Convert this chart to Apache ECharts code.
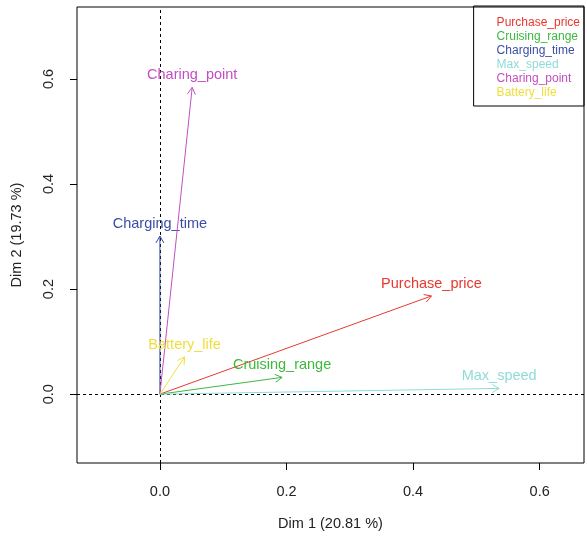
<!DOCTYPE html>
<html>
<head>
<meta charset="utf-8">
<script src="https://cdn.jsdelivr.net/npm/echarts@6/dist/echarts.min.js"></script>
<style>
  html, body { margin: 0; padding: 0; background: #fff; }
  #chart { width: 587px; height: 536px; }
</style>
</head>
<body>
<div id="chart"></div>
<script>
// variables of the PCA correlation circle (coordinates on Dim 1 / Dim 2)
var varNames = ['Purchase_price', 'Cruising_range', 'Charging_time', 'Max_speed', 'Charing_point', 'Battery_life'];
var dim1 = [0.429, 0.193, 0.000, 0.536, 0.051, 0.039];
var dim2 = [0.187, 0.032, 0.301, 0.011, 0.584, 0.071];
var varColors = ['#E8372F', '#3DB83D', '#3A4DA6', '#8EDCD8', '#C24FC0', '#EEDF3A'];
var xTicks = [0.0, 0.2, 0.4, 0.6];
var yTicks = [0.0, 0.2, 0.4, 0.6];

var FONT = '"Liberation Sans", Arial, sans-serif';

var chart = echarts.init(document.getElementById('chart'));

function arrowItem(color, name) {
    return function (params, api) {
        var o = api.coord([0, 0]);
        var p = api.coord([api.value(0), api.value(1)]);
        var ang = Math.atan2(p[1] - o[1], p[0] - o[0]);
        var L = 8, a = Math.PI / 6;
        var h1 = [p[0] - L * Math.cos(ang - a), p[1] - L * Math.sin(ang - a)];
        var h2 = [p[0] - L * Math.cos(ang + a), p[1] - L * Math.sin(ang + a)];
        return {
            type: 'group',
            children: [
                { type: 'line', shape: { x1: o[0], y1: o[1], x2: p[0], y2: p[1] },
                  style: { stroke: color, lineWidth: 1 } },
                { type: 'polyline', shape: { points: [h1, p, h2] },
                  style: { stroke: color, lineWidth: 1, fill: null } },
                { type: 'text', x: p[0], y: p[1] - 12,
                  style: { text: name, align: 'center', verticalAlign: 'middle',
                           fill: color, font: '14.5px ' + FONT } }
            ]
        };
    };
}

var series = [];
for (var i = 0; i < varNames.length; i++) {
    series.push({
        name: varNames[i],
        type: 'custom',
        color: varColors[i],
        renderItem: arrowItem(varColors[i], varNames[i]),
        data: [[dim1[i], dim2[i]]],
        silent: true,
        z: 3
    });
}
// dashed reference lines through the origin
series[0].markLine = {
    silent: true,
    symbol: 'none',
    label: { show: false },
    lineStyle: { color: '#000', width: 1, type: [3, 3] },
    data: [{ xAxis: 0 }, { yAxis: 0 }],
    z: 1
};

var option = {
    animation: false,
    grid: {
        left: 77, right: 3, top: 7, bottom: 73,
        show: true, borderColor: '#000', borderWidth: 1, backgroundColor: 'transparent'
    },
    legend: {
        orient: 'vertical',
        right: 3, top: 6,
        icon: 'none',
        itemWidth: 0, itemHeight: 12, itemGap: 2,
        padding: [11, 4, 7, 18],
        borderColor: '#000', borderWidth: 1, borderRadius: 0,
        selectedMode: false,
        data: varNames.map(function (n, i) {
            return { name: n, textStyle: { color: varColors[i] } };
        }),
        textStyle: { fontSize: 12, fontFamily: FONT }
    },
    xAxis: {
        type: 'value',
        min: -0.131, max: 0.670,
        name: 'Dim 1 (20.81 %)',
        nameLocation: 'middle', nameGap: 53,
        nameTextStyle: { fontSize: 14.5, fontFamily: FONT, color: '#222' },
        axisLine: { show: false, onZero: false },
        splitLine: { show: false },
        axisTick: { show: true, inside: false, length: 7, customValues: xTicks, lineStyle: { color: '#000' } },
        axisLabel: { customValues: xTicks, margin: 21, fontSize: 14.5, fontFamily: FONT, color: '#222',
                     formatter: function (v) { return v.toFixed(1); } }
    },
    yAxis: {
        type: 'value',
        min: -0.131, max: 0.737,
        name: 'Dim 2 (19.73 %)',
        nameLocation: 'middle', nameGap: 53, nameRotate: 90,
        nameTextStyle: { fontSize: 14.5, fontFamily: FONT, color: '#222' },
        axisLine: { show: false, onZero: false },
        splitLine: { show: false },
        axisTick: { show: true, inside: false, length: 7, customValues: yTicks, lineStyle: { color: '#000' } },
        axisLabel: { customValues: yTicks, margin: 21, rotate: 90, fontSize: 14.5, fontFamily: FONT, color: '#222',
                     formatter: function (v) { return v.toFixed(1); } }
    },
    series: series
};
chart.setOption(option);
</script>
</body>
</html>
